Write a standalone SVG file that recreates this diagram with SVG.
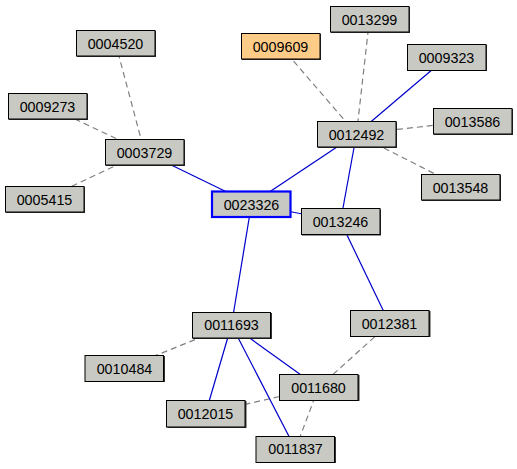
<svg xmlns="http://www.w3.org/2000/svg" width="517" height="469" viewBox="0 0 517 469">
<style>
.n rect.b{fill:#c8c9c3;stroke:#000;stroke-width:1}
.n rect.s{fill:#333}
.n text{font-family:"Liberation Sans",Arial,sans-serif;font-size:14.3px;text-anchor:middle;fill:#000}
.hl rect.b{stroke:#0000ff;stroke-width:2.2}
.or rect.b{fill:#ffcc88}
.e line{fill:none}
.sol{stroke:#0000cc;stroke-width:1.2}
.das{stroke:#808080;stroke-width:1.2;stroke-dasharray:6,4}
</style>
<rect width="517" height="469" fill="#fff"/>
<g id="edges" class="e">
<line class="das" x1="115.5" y1="43" x2="144.5" y2="152"/>
<line class="das" x1="47.5" y1="106" x2="144.5" y2="152"/>
<line class="das" x1="44.5" y1="199" x2="144.5" y2="152"/>
<line class="das" x1="280.5" y1="46" x2="356.5" y2="134"/>
<line class="das" x1="369.5" y1="19" x2="356.5" y2="134"/>
<line class="das" x1="472.5" y1="121" x2="356.5" y2="134"/>
<line class="das" x1="460.5" y1="187" x2="356.5" y2="134"/>
<line class="das" x1="124.5" y1="368" x2="231.5" y2="325"/>
<line class="das" x1="389.5" y1="323.5" x2="318.5" y2="387.5"/>
<line class="das" x1="318.5" y1="387.5" x2="205.5" y2="413.5"/>
<line class="das" x1="318.5" y1="387.5" x2="295.5" y2="449"/>
<line class="sol" x1="144.5" y1="152" x2="251.5" y2="204"/>
<line class="sol" x1="251.5" y1="204" x2="356.5" y2="134"/>
<line class="sol" x1="251.5" y1="204" x2="340.5" y2="221.5"/>
<line class="sol" x1="251.5" y1="204" x2="231.5" y2="325"/>
<line class="sol" x1="356.5" y1="134" x2="446.5" y2="57.5"/>
<line class="sol" x1="356.5" y1="134" x2="340.5" y2="221.5"/>
<line class="sol" x1="340.5" y1="221.5" x2="389.5" y2="323.5"/>
<line class="sol" x1="231.5" y1="325" x2="205.5" y2="413.5"/>
<line class="sol" x1="231.5" y1="325" x2="295.5" y2="449"/>
<line class="sol" x1="231.5" y1="325" x2="318.5" y2="387.5"/>
</g>
<g id="n0013299" class="n"><rect class="s" x="331" y="7" width="79" height="26"/><rect class="b" x="330.5" y="6.5" width="78.5" height="25.5"/><text x="369.5" y="24.5">0013299</text></g>
<g id="n0009609" class="n or"><rect class="s" x="242" y="34" width="79" height="26"/><rect class="b" x="241.5" y="33.5" width="78.5" height="25.5"/><text x="280.5" y="51.5">0009609</text></g>
<g id="n0009323" class="n"><rect class="s" x="408" y="45" width="79" height="26"/><rect class="b" x="407.5" y="44.5" width="78.5" height="26"/><text x="446.5" y="62.5">0009323</text></g>
<g id="n0004520" class="n"><rect class="s" x="77" y="31" width="79" height="26"/><rect class="b" x="76.5" y="30.5" width="78.5" height="25.5"/><text x="115.5" y="48.5">0004520</text></g>
<g id="n0009273" class="n"><rect class="s" x="9" y="94" width="79" height="26"/><rect class="b" x="8.5" y="93.5" width="78.5" height="25.5"/><text x="47.5" y="111.5">0009273</text></g>
<g id="n0003729" class="n"><rect class="s" x="106" y="140" width="79" height="26"/><rect class="b" x="105.5" y="139.5" width="78.5" height="25.5"/><text x="144.5" y="157.5">0003729</text></g>
<g id="n0005415" class="n"><rect class="s" x="6" y="187" width="79" height="26"/><rect class="b" x="5.5" y="186.5" width="78.5" height="25.5"/><text x="44.5" y="204.5">0005415</text></g>
<g id="n0012492" class="n"><rect class="s" x="318" y="122" width="79" height="26"/><rect class="b" x="317.5" y="121.5" width="78.5" height="25.5"/><text x="356.5" y="139.5">0012492</text></g>
<g id="n0013586" class="n"><rect class="s" x="434" y="109" width="79" height="26"/><rect class="b" x="433.5" y="108.5" width="78.5" height="25.5"/><text x="472.5" y="126.5">0013586</text></g>
<g id="n0013548" class="n"><rect class="s" x="422" y="175" width="79" height="26"/><rect class="b" x="421.5" y="174.5" width="78.5" height="25.5"/><text x="460.5" y="192.5">0013548</text></g>
<g id="n0023326" class="n hl"><rect class="b" x="212" y="191.5" width="78.5" height="25.5"/><text x="251.5" y="209.5">0023326</text></g>
<g id="n0013246" class="n"><rect class="s" x="302" y="209.5" width="79" height="26"/><rect class="b" x="301.5" y="208.5" width="78.5" height="26"/><text x="340.5" y="227">0013246</text></g>
<g id="n0012381" class="n"><rect class="s" x="351.5" y="311" width="79" height="26"/><rect class="b" x="350.5" y="310.5" width="78.5" height="26"/><text x="389.5" y="328.5">0012381</text></g>
<g id="n0011693" class="n"><rect class="s" x="193" y="313" width="79" height="26"/><rect class="b" x="192.5" y="312.5" width="78" height="25.5"/><text x="231.5" y="330">0011693</text></g>
<g id="n0010484" class="n"><rect class="s" x="86" y="356" width="79" height="26"/><rect class="b" x="85" y="355.5" width="78.5" height="26"/><text x="124.5" y="373.5">0010484</text></g>
<g id="n0011680" class="n"><rect class="s" x="280.5" y="375" width="79" height="26"/><rect class="b" x="279.5" y="374.5" width="78.5" height="26"/><text x="318.5" y="392.5">0011680</text></g>
<g id="n0012015" class="n"><rect class="s" x="167.5" y="401" width="79" height="27"/><rect class="b" x="166.5" y="400.5" width="78.5" height="26.5"/><text x="205.5" y="418.5">0012015</text></g>
<g id="n0011837" class="n"><rect class="s" x="257" y="437" width="79" height="26"/><rect class="b" x="256" y="436.5" width="78.5" height="26"/><text x="295.5" y="454">0011837</text></g>
</svg>
